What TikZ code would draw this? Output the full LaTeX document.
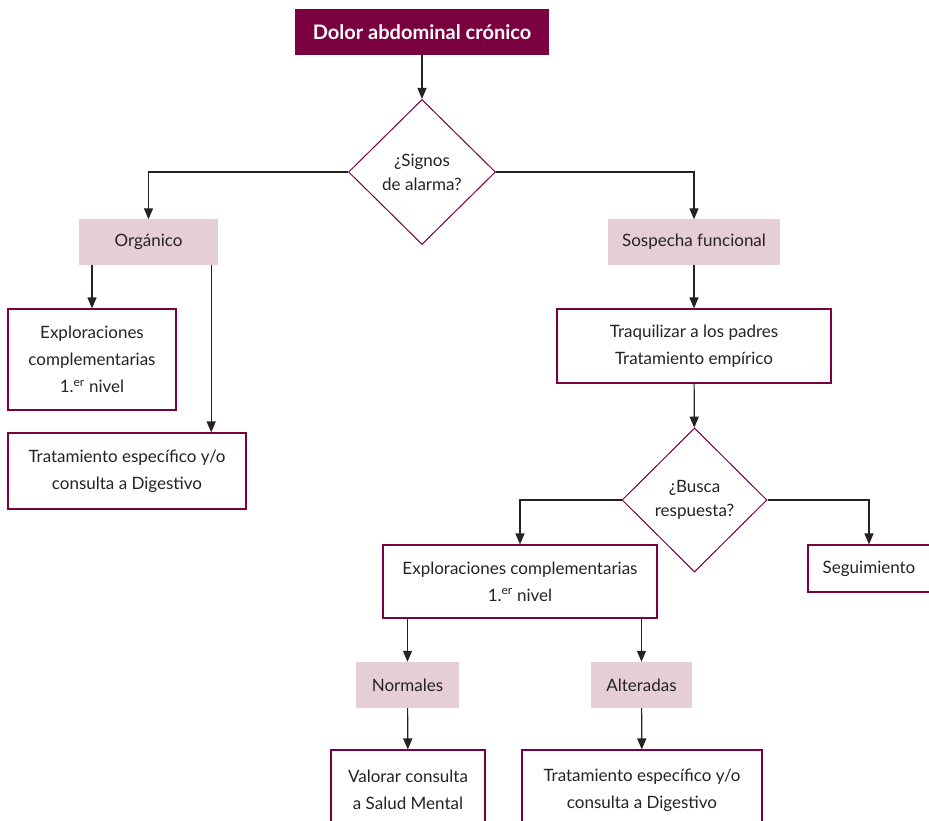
\documentclass[tikz,border=0pt]{standalone}
\usepackage{fontspec}
\setmainfont{Lato}
\usepackage{tikz}
\usetikzlibrary{positioning,arrows.meta,shapes.geometric,calc}
\definecolor{wine}{RGB}{122,0,64}
\definecolor{rose}{RGB}{230,206,214}
\definecolor{ink}{RGB}{38,34,36}
\tikzset{
  box/.style={draw=wine, line width=1.1pt, fill=white, align=center, inner sep=2pt, text=ink, font=\fontsize{17}{27}\selectfont},
  title/.style={fill=wine, text=white, align=center, minimum width=254pt, minimum height=46pt, font=\fontsize{20}{24}\selectfont\bfseries},
  result/.style={fill=rose, align=center, inner sep=2pt, minimum height=45pt, text=ink, font=\fontsize{17}{27}\selectfont},
  cond/.style={draw=wine, line width=1pt, diamond, fill=white, align=center, inner sep=1pt, minimum width=147pt, minimum height=145pt, text=ink, font=\fontsize{17}{24}\selectfont},
  arrow/.style={-{Triangle[length=11pt, width=9pt]}, line width=1.2pt, draw=ink}
}
\begin{document}
\begin{tikzpicture}[x=1pt, y=-1pt]
  \useasboundingbox (0,0) rectangle (929,821);
  \node[title] (dolor) at (422,32) {Dolor abdominal crónico};
  \node[cond] (alarma) at (422,172) {¿Signos\\ de alarma?};
  \node[result, minimum width=139pt] (organico) at (148.5,242) {Orgánico};
  \node[result, minimum width=172pt] (sospecha) at (694,242) {Sospecha funcional};
  \node[box, minimum width=168pt, minimum height=101pt] (expl1) at (92,359.5) {Exploraciones\\ complementarias\\ 1.\textsuperscript{er} nivel};
  \node[box, minimum width=238pt, minimum height=76pt] (trat1) at (127,471) {Tratamiento específico y/o\\ consulta a Digestivo};
  \node[box, minimum width=274pt, minimum height=74pt] (padres) at (694,346) {Traquilizar a los padres\\ Tratamiento empírico};
  \node[cond, minimum width=145pt, minimum height=144pt] (respuesta) at (694.5,500) {¿Busca\\ respuesta?};
  \node[box, minimum width=274pt, minimum height=73pt] (expl2) at (520,581.5) {Exploraciones complementarias\\ 1.\textsuperscript{er} nivel};
  \node[box, minimum width=122pt, minimum height=47pt] (seguim) at (869,568.5) {Seguimiento};
  \node[result, minimum width=103pt, minimum height=46pt] (normales) at (407.5,685) {Normales};
  \node[result, minimum width=101pt, minimum height=46pt] (alteradas) at (641.5,685) {Alteradas};
  \node[box, minimum width=154pt, minimum height=80pt] (salud) at (408,790) {Valorar consulta\\ a Salud Mental};
  \node[box, minimum width=240pt, minimum height=80pt] (trat2) at (642,790) {Tratamiento específico y/o\\ consulta a Digestivo};
  % connectors
  \draw[arrow] (dolor) -- (alarma);
  \draw[arrow] (alarma.west) -| (organico.north);
  \draw[arrow] (alarma.east) -| (sospecha.north);
  \draw[arrow] (organico.south -| expl1.north) -- (expl1.north);
  \draw[arrow] ([xshift=-7pt]organico.south east) -- ([xshift=-7pt]organico.south east |- trat1.north);
  \draw[arrow] (sospecha) -- (padres);
  \draw[arrow] (padres) -- (respuesta);
  \draw[arrow] (respuesta.west) -| (expl2.north);
  \draw[arrow] (respuesta.east) -| (seguim.north);
  \draw[arrow] (expl2.south -| normales.north) -- (normales.north);
  \draw[arrow] (expl2.south -| alteradas.north) -- (alteradas.north);
  \draw[arrow] (normales) -- (salud);
  \draw[arrow] (alteradas) -- (trat2);
\end{tikzpicture}
\end{document}
